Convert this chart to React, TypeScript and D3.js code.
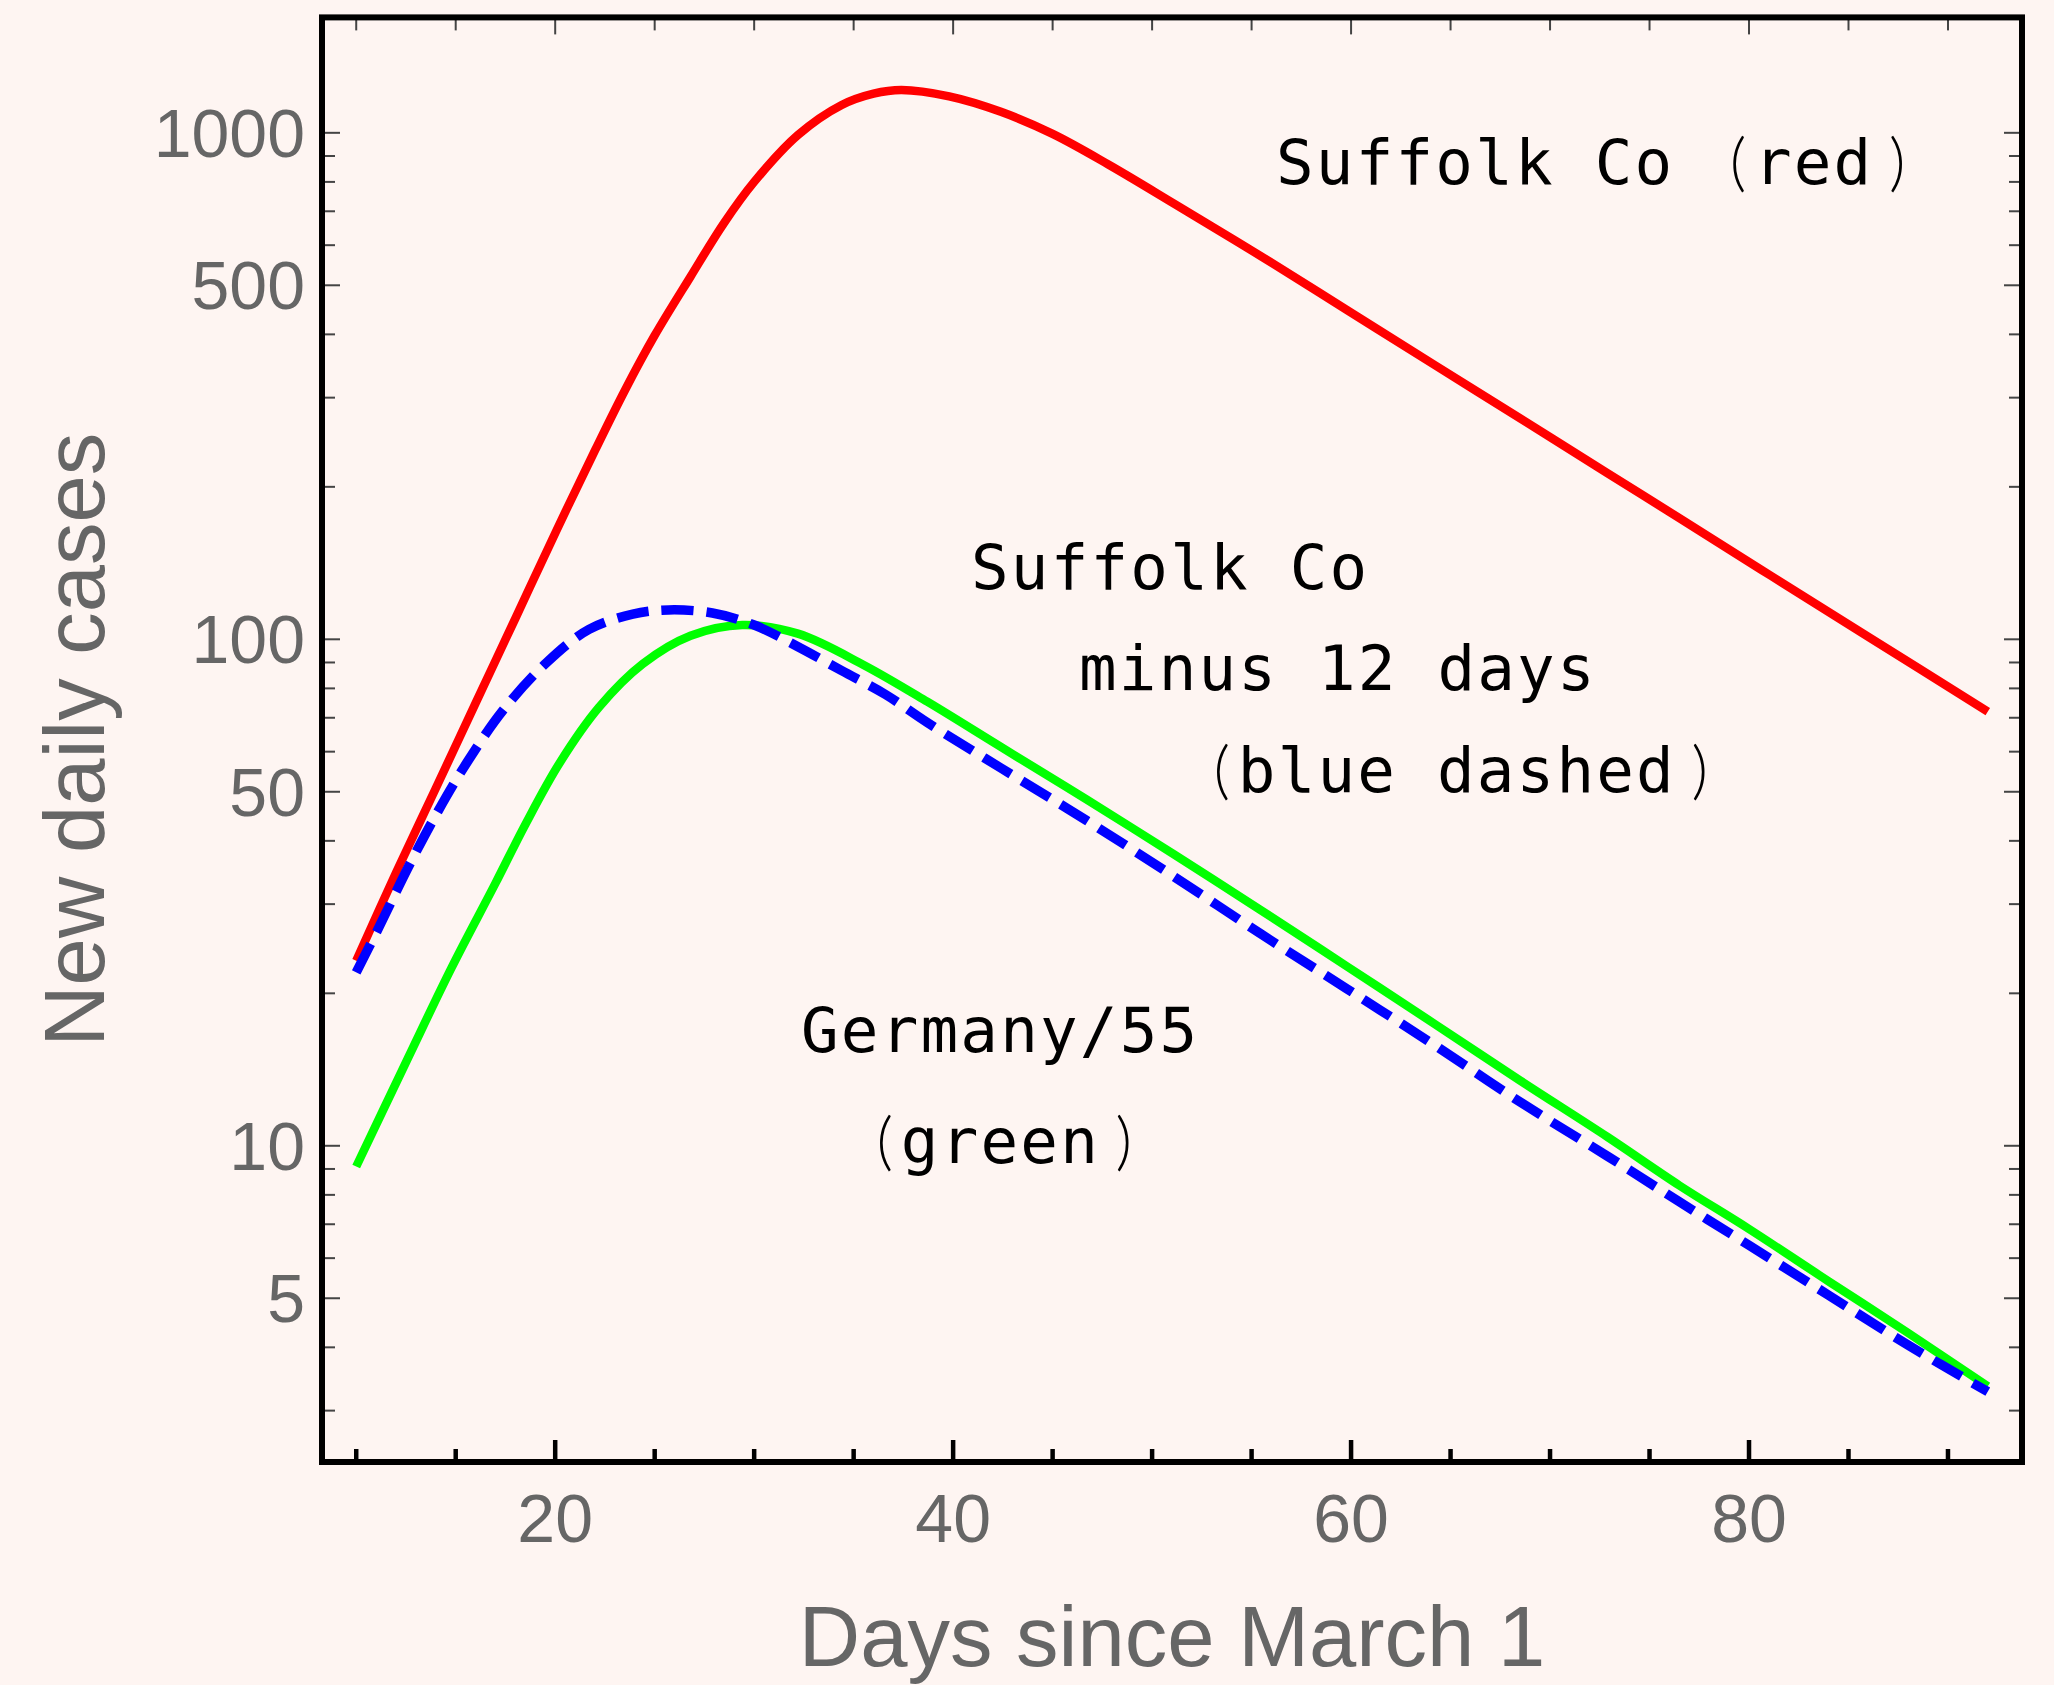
import React, { useEffect } from 'react';
import * as d3 from 'd3';

// ---- data: new daily cases by day since March 1 ----
const suffolkDays = [10, 12, 14, 16, 18, 20, 22, 23.5, 25, 26.8, 28.5, 30, 32.2, 34.4, 36, 37.4, 39.8, 42.4, 45, 47.8, 51.1, 55.4, 59.8, 64.2, 68.5, 72.9, 76.5, 81.1, 86.2, 92];
const suffolkCases = [23.2, 34.6, 50.8, 74.8, 110, 162, 236, 310, 398, 520, 665, 800, 990, 1135, 1195, 1215, 1180, 1100, 995, 866, 725, 573, 446.6, 348, 273, 212.6, 173.5, 133.5, 100, 72];

const shiftedDays = [10, 11.1, 12.6, 14.1, 15.6, 17.4, 19.6, 21.7, 23.9, 25.7, 27.9, 30, 32.2, 34.4, 36.6, 38.7, 42.4, 46.7, 51.1, 55.4, 59.8, 64.2, 68.5, 72.9, 76.5, 80, 84, 88, 92];
const shiftedCases = [22, 26.8, 35.4, 45.7, 57.4, 72.6, 90.2, 104.6, 112.1, 114.3, 112.7, 106.7, 96.7, 86.7, 77.8, 68.5, 55.7, 43.9, 34, 26.3, 20.4, 15.8, 12.2, 9.53, 7.75, 6.36, 5.07, 4.04, 3.27];

const germanyDays = [10, 12.6, 14.8, 17, 18.5, 20.2, 22.2, 24.4, 26.8, 29.4, 32.2, 35.5, 38.7, 42.4, 46.7, 51.1, 55.4, 59.8, 64.2, 68.5, 72.9, 76.5, 80, 84, 88, 92];
const germanyCases = [9.1, 14.9, 22.5, 33, 43.1, 56.8, 73.4, 89.4, 101.6, 106.7, 102.6, 89, 75.3, 61.3, 48.3, 37.6, 29.3, 22.6, 17.4, 13.45, 10.4, 8.35, 6.85, 5.4, 4.27, 3.35];

// ---- axes ----
const xMajorTicks = [20, 40, 60, 80];
const xMinorTicks = [10, 15, 25, 30, 35, 45, 50, 55, 65, 70, 75, 85, 90];
const yLabeledTicks = [5, 10, 50, 100, 500, 1000];
const yMinorTicks = [3, 4, 6, 7, 8, 9, 20, 30, 40, 60, 70, 80, 90, 200, 300, 400, 600, 700, 800, 900];
const xDomain: [number, number] = [8.28, 93.72];
const yDomain: [number, number] = [2.375, 1690];

const xTitle = 'Days since March 1';
const yTitle = 'New daily cases';

// ---- annotations ----
const notes = [
  { text: 'Suffolk Co (red)', x: 1276, y: 184 },
  { text: 'Suffolk Co', x: 971, y: 589 },
  { text: 'minus 12 days', x: 1079, y: 690 },
  { text: '(blue dashed)', x: 1198, y: 792 },
  { text: 'Germany/55', x: 801, y: 1052 },
  { text: '(green)', x: 861, y: 1163 },
];

const W = 2054;
const H = 1685;
const BG = '#fef5f2';
const FRAME = { left: 322, right: 2022, top: 17.4, bottom: 1462 };
const LABEL_FONT = '"Liberation Sans", Arial, Helvetica, sans-serif';
const NOTE_FONT = '"DejaVu Sans Mono", monospace';
const PAREN_FONT = 'Lato, "DejaVu Sans", sans-serif';
const NOTE_SIZE = 62.5;
const NOTE_SPACING = 2.2;
const NOTE_ADV = NOTE_SIZE * 0.602 + NOTE_SPACING;

type Pt = [number, number];
const zip = (a: number[], b: number[]): Pt[] => a.map((d, i) => [d, b[i]]);

// Split a monospaced note into text runs and bracket glyphs, keeping the grid.
function splitNote(text: string) {
  const parts: { s: string; i: number; paren: boolean }[] = [];
  let buf = '';
  let start = 0;
  [...text].forEach((ch, i) => {
    if (ch === '(' || ch === ')') {
      if (buf) parts.push({ s: buf, i: start, paren: false });
      parts.push({ s: ch, i, paren: true });
      buf = '';
      start = i + 1;
    } else {
      if (!buf) start = i;
      buf += ch;
    }
  });
  if (buf) parts.push({ s: buf, i: start, paren: false });
  return parts;
}

export default function App() {
  useEffect(() => {
    document.body.style.margin = '0';
    document.body.style.background = BG;
  }, []);

  const x = d3.scaleLinear().domain(xDomain).range([FRAME.left, FRAME.right]);
  const y = d3.scaleLog().domain(yDomain).range([FRAME.bottom, FRAME.top]);

  const line = d3
    .line<Pt>()
    .x((d) => x(d[0]))
    .y((d) => y(d[1]))
    .curve(d3.curveCatmullRom.alpha(0.5));

  const series = [
    { pts: zip(suffolkDays, suffolkCases), color: '#ff0000', width: 8.5, dash: undefined },
    { pts: zip(germanyDays, germanyCases), color: '#00ff00', width: 8.5, dash: undefined },
    { pts: zip(shiftedDays, shiftedCases), color: '#0000ff', width: 9.5, dash: '32 13' },
  ];

  const allX = [...xMajorTicks.map((v) => ({ v, major: true })), ...xMinorTicks.map((v) => ({ v, major: false }))];
  const allY = [...yLabeledTicks.map((v) => ({ v, major: true })), ...yMinorTicks.map((v) => ({ v, major: false }))];

  return (
    <svg
      width={W}
      height={H}
      viewBox={`0 0 ${W} ${H}`}
      style={{ position: 'absolute', left: 0, top: 0, display: 'block' }}
    >
      <rect x={0} y={0} width={W} height={H} fill={BG} />

      <defs>
        <clipPath id="plot-clip">
          <rect x={FRAME.left} y={FRAME.top} width={FRAME.right - FRAME.left} height={FRAME.bottom - FRAME.top} />
        </clipPath>
      </defs>

      {/* curves */}
      <g clipPath="url(#plot-clip)" fill="none">
        {series.map((s, i) => (
          <path
            key={i}
            d={line(s.pts) || ''}
            stroke={s.color}
            strokeWidth={s.width}
            strokeDasharray={s.dash}
            strokeLinecap="butt"
            strokeLinejoin="round"
          />
        ))}
      </g>

      {/* bottom ticks */}
      <g stroke="#000" strokeWidth={4.5}>
        {allX.map(({ v, major }) => (
          <line key={`b${v}`} x1={x(v)} x2={x(v)} y1={FRAME.bottom} y2={FRAME.bottom - (major ? 22 : 13)} />
        ))}
      </g>
      {/* top ticks */}
      <g stroke="#444" strokeWidth={2}>
        {allX.map(({ v, major }) => (
          <line key={`t${v}`} x1={x(v)} x2={x(v)} y1={FRAME.top} y2={FRAME.top + (major ? 17 : 13)} />
        ))}
      </g>
      {/* left and right ticks */}
      <g stroke="#444" strokeWidth={2}>
        {allY.map(({ v, major }) => (
          <g key={`y${v}`}>
            <line x1={FRAME.left} x2={FRAME.left + (major ? 18 : 13)} y1={y(v)} y2={y(v)} />
            <line x1={FRAME.right} x2={FRAME.right - (major ? 18 : 13)} y1={y(v)} y2={y(v)} />
          </g>
        ))}
      </g>

      {/* frame */}
      <rect
        x={FRAME.left}
        y={FRAME.top}
        width={FRAME.right - FRAME.left}
        height={FRAME.bottom - FRAME.top}
        fill="none"
        stroke="#000"
        strokeWidth={6}
      />

      {/* tick labels */}
      <g fill="#666" fontFamily={LABEL_FONT} fontSize={68}>
        {xMajorTicks.map((v) => (
          <text key={`xl${v}`} x={x(v)} y={1542} textAnchor="middle">
            {v}
          </text>
        ))}
        {yLabeledTicks.map((v) => (
          <text key={`yl${v}`} x={305} y={y(v) + 24} textAnchor="end">
            {v}
          </text>
        ))}
      </g>

      {/* axis titles */}
      <g fill="#666" fontFamily={LABEL_FONT} fontSize={85}>
        <text x={(FRAME.left + FRAME.right) / 2} y={1666} textAnchor="middle">
          {xTitle}
        </text>
        <text transform={`translate(104, ${(FRAME.top + FRAME.bottom) / 2}) rotate(-90)`} textAnchor="middle">
          {yTitle}
        </text>
      </g>

      {/* annotations */}
      <g fill="#000">
        {notes.map((n) => (
          <g key={n.text + n.y}>
            {splitNote(n.text).map((p, k) =>
              p.paren ? (
                <text
                  key={k}
                  x={n.x + p.i * NOTE_ADV + NOTE_SIZE * 0.301 + 5}
                  y={n.y}
                  textAnchor="middle"
                  fontFamily={PAREN_FONT}
                  fontWeight={300}
                  fontSize={64}
                >
                  {p.s}
                </text>
              ) : (
                <text
                  key={k}
                  x={n.x + p.i * NOTE_ADV}
                  y={n.y}
                  fontFamily={NOTE_FONT}
                  fontSize={NOTE_SIZE}
                  letterSpacing={NOTE_SPACING}
                  xmlSpace="preserve"
                  style={{ whiteSpace: 'pre' }}
                >
                  {p.s}
                </text>
              )
            )}
          </g>
        ))}
      </g>
    </svg>
  );
}
